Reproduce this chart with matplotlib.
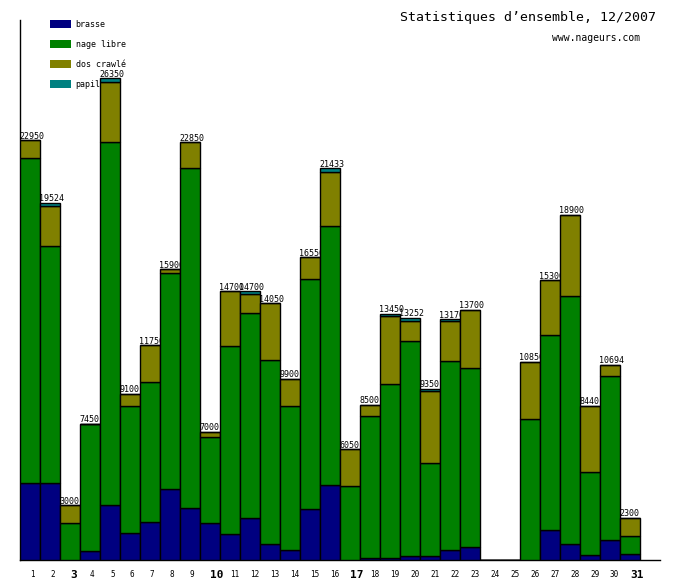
import matplotlib
matplotlib.use('Agg')
from matplotlib import pyplot as plt

days = list(range(1, 32))
bold_days = [3, 10, 17, 31]

brasse = [4200, 4200, 0, 500, 3000, 1500, 2100, 3880, 2840, 2020, 1420, 2300, 870, 550, 2790, 4100,
          0, 100, 110, 200, 220, 550, 710, 0, 0, 0, 1640, 870, 270, 1090, 330]
nage_libre = [17800, 12950, 2000, 6950, 19870, 6900, 7650, 11800, 18630, 4710, 10280, 11200, 10070, 7875, 12560, 14150,
              4030, 7750, 9510, 11800, 5080, 10330, 9770, 0, 0, 7740, 10660, 13550, 4560, 8950, 990]
dos_crawle = [950, 2240, 1000, 0, 3280, 700, 2000, 220, 1380, 270, 3000, 1040, 3110, 1475, 1200, 3000,
              2020, 650, 3720, 1090, 3940, 2180, 3220, 0, 0, 3110, 3000, 4480, 3610, 654, 980]
papillon = [0, 134, 0, 0, 200, 0, 0, 0, 0, 0, 0, 160, 0, 0, 0, 183,
            0, 0, 110, 162, 110, 110, 0, 0, 0, 0, 0, 0, 0, 0, 0]

series = [('brasse', brasse, '#000080'),
          ('nage libre', nage_libre, '#008000'),
          ('dos crawlé', dos_crawle, '#808000'),
          ('papillon', papillon, '#008080')]

mono = 'DejaVu Sans Mono'

fig = plt.figure(figsize=(6.8, 5.8), dpi=100)
ax = fig.add_axes([20 / 680, 20 / 580, 640 / 680, 540 / 580])

x = [d - 1 for d in days]
bottom = [0] * len(days)
handles = []
for name, vals, col in series:
    bars = ax.bar(x, vals, width=1, bottom=bottom, align='edge', color=col,
                  edgecolor='black', linewidth=1.0, label=name)
    # later days sit on top of earlier labels
    for i, p in enumerate(bars.patches):
        p.set_zorder(3 + 2 * i)
    handles.append(bars)
    bottom = [b + v for b, v in zip(bottom, vals)]

totals = bottom
for i, t in enumerate(totals):
    if t > 0:
        ax.text(x[i] - 0.03, t + 90, str(t), ha='left', va='baseline', fontsize=6,
                family=mono, zorder=4 + 2 * i)

ax.set_xlim(0, 32)
ax.set_ylim(0, 29540)

ax.set_xticks([d - 0.5 for d in days])
ax.set_xticklabels([str(d) for d in days])
for lab, d in zip(ax.get_xticklabels(), days):
    lab.set_horizontalalignment('left')
    lab.set_family(mono)
    if d in bold_days:
        lab.set_fontsize(8)
        lab.set_fontweight('bold')
    else:
        lab.set_fontsize(5.5)
ax.tick_params(axis='x', length=0, pad=7)
ax.set_yticks([])

ax.spines['top'].set_color('none')
ax.spines['right'].set_color('none')
ax.spines['left'].set_linewidth(1.0)
ax.spines['bottom'].set_linewidth(1.0)

leg = ax.legend(handles=handles, loc='upper left', bbox_to_anchor=(28 / 640, 1.0 + 2 / 540),
                frameon=False, prop={'family': mono, 'size': 6}, borderpad=0.2,
                handlelength=2.6, handleheight=1.0, handletextpad=0.5, labelspacing=1.33,
                borderaxespad=0)
for h in leg.legend_handles:
    h.set_edgecolor('none')
leg.set_zorder(1)

fig.text(656 / 680, 1 - 18 / 580, 'Statistiques d\u2019ensemble, 12/2007', ha='right', va='center',
         fontsize=9.5, family=mono)
fig.text(640 / 680, 1 - 38 / 580, 'www.nageurs.com', ha='right', va='center',
         fontsize=7, family=mono)

fig.savefig('out.png', dpi=100)
